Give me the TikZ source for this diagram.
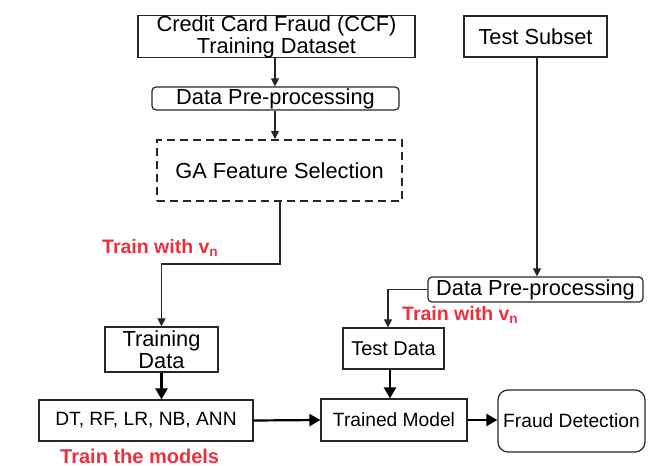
\documentclass[tikz,border=0pt]{standalone}
\usepackage{fontspec}
\setmainfont{Liberation Sans}
\usetikzlibrary{arrows.meta,calc}
\definecolor{lblred}{RGB}{238,48,62}
\tikzset{
  box/.style={draw=black!85, line width=1.2pt, inner sep=0pt, align=center},
  rbox/.style={box, rounded corners=4pt},
  big/.style={font=\fontsize{21.8}{25}\selectfont},
  mid/.style={font=\fontsize{19.2}{22}\selectfont},
  thin arrow/.style={line width=1.1pt, draw=black!85, -{Triangle[width=8pt,length=8pt]}},
  thick arrow/.style={line width=2.2pt, -{Triangle[width=12pt,length=11pt]}},
  thin line/.style={line width=1.1pt, draw=black!85},
  redlbl/.style={text=lblred, font=\fontsize{19.5}{22}\selectfont\bfseries, anchor=west, inner sep=0pt}
}
\begin{document}
\begin{tikzpicture}[x=1pt,y=-1pt]
\useasboundingbox (0,0) rectangle (654,466);
% top left column
\node[box,big,minimum width=277pt,minimum height=41pt] (ccf) at (276.5,36.5) {Credit Card Fraud (CCF)\\[-3pt]Training Dataset};
\node[rbox,big,minimum width=247pt,minimum height=23pt] (dp1) at (275.5,98.5) {Data Pre-processing};
\node[box,big,dashed,dash pattern=on 8pt off 5pt,line width=2pt,minimum width=245pt,minimum height=61pt] (ga) at (279.5,170.5) {GA Feature Selection};
\node[box,big,minimum width=113pt,minimum height=45pt] (td) at (161.5,349.5) {Training\\[-3pt]Data};
\node[box,mid,minimum width=214pt,minimum height=41pt] (dt) at (146,420.5) {DT, RF, LR, NB, ANN};
% right column
\node[box,big,minimum width=143pt,minimum height=41pt] (ts) at (535.5,36.5) {Test Subset};
\node[rbox,big,minimum width=215pt,minimum height=25pt] (dp2) at (535.5,289.5) {Data Pre-processing};
\node[box,font=\fontsize{20}{23}\selectfont,minimum width=101pt,minimum height=41pt] (tdata) at (393.5,348.5) {Test Data};
\node[box,mid,minimum width=146pt,minimum height=42pt] (tm) at (394,420) {Trained Model};
\node[box,mid,rounded corners=10pt,minimum width=147pt,minimum height=62pt] (fd) at (571.5,421) {Fraud Detection};
% labels
\node[redlbl] (l1) at (102,248) {Train with v\textsubscript{\bfseries n}};
\node[redlbl] (l2) at (402,315) {Train with v\textsubscript{\bfseries n}};
\node[redlbl,font=\fontsize{20}{23}\selectfont\bfseries] (l3) at (60,456) {Train the models};
% connectors
\coordinate (ccfb) at ($(ccf.south)+(-1.5,0)$);
\draw[thin arrow] (ccfb) -- (ccfb |- dp1.north);
\coordinate (dp1b) at ($(dp1.south)+(-0.5,0)$);
\draw[thin arrow] (dp1b) -- (dp1b |- ga.north);
\coordinate (gab) at ($(ga.south)+(0.5,0)$);
\coordinate (gat) at ($(gab)+(0,62)$);
\draw[thin arrow] (gab) -- (gat) -| (td.north);
\coordinate (tdb) at (td.south);
\draw[thick arrow] (tdb) -- (tdb |- dt.north);
\draw[thick arrow] (dt.east) -- (tm.west);
\draw[thick arrow] (tm.east) -- (tm.east -| fd.west);
\coordinate (tdatab) at ($(tdata.south)+(-3.5,0)$);
\draw[thick arrow] (tdatab) -- (tdatab |- tm.north);
\coordinate (tsb) at ($(ts.south)+(1.5,0)$);
\draw[thin arrow] (tsb) -- (tsb |- dp2.north);
\coordinate (tdatat) at ($(tdata.north)+(-5.5,0)$);
\draw[thin arrow] (dp2.west) -| (tdatat);
\end{tikzpicture}
\end{document}
